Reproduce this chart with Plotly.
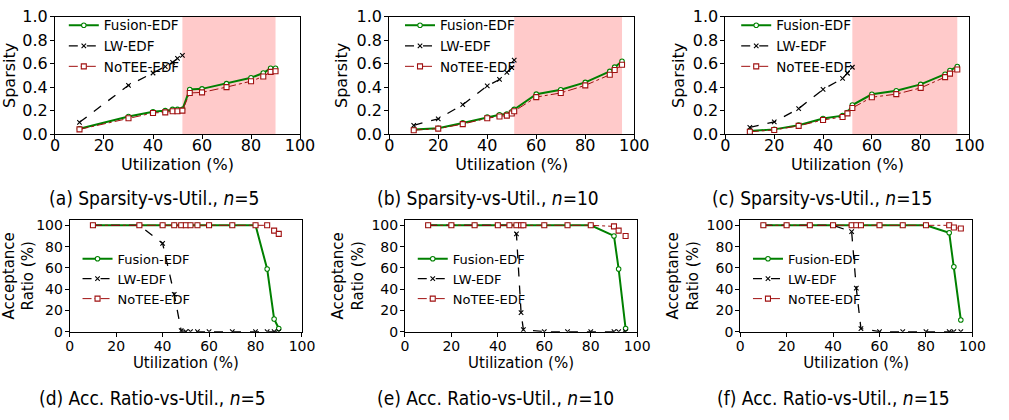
import plotly.graph_objects as go

series_names = ["Fusion-EDF", "LW-EDF", "NoTEE-EDF"]

# ---------- Sparsity vs utilization ----------
sp5_x = [10, 30, 40, 45, 48, 50, 52, 55, 60, 70, 80, 85, 88, 90]
sp5_fusion = [0.045, 0.15, 0.19, 0.20, 0.21, 0.21, 0.21, 0.38, 0.385, 0.43, 0.48, 0.52, 0.56, 0.56]
sp5_notee = [0.04, 0.135, 0.18, 0.185, 0.195, 0.195, 0.20, 0.35, 0.355, 0.40, 0.45, 0.49, 0.53, 0.535]
sp5_lw_x = [10, 30, 40, 45, 48, 50, 52]
sp5_lw = [0.10, 0.415, 0.52, 0.575, 0.61, 0.645, 0.67]

sp10_x = [10, 20, 30, 40, 45, 48, 50, 51, 60, 70, 80, 90, 92, 95]
sp10_fusion = [0.038, 0.05, 0.095, 0.146, 0.165, 0.17, 0.19, 0.21, 0.34, 0.377, 0.44, 0.534, 0.57, 0.62]
sp10_notee = [0.033, 0.046, 0.085, 0.135, 0.15, 0.157, 0.175, 0.195, 0.315, 0.35, 0.415, 0.505, 0.545, 0.59]
sp10_lw_x = [10, 20, 30, 40, 45, 48, 50, 51]
sp10_lw = [0.075, 0.13, 0.25, 0.41, 0.465, 0.525, 0.565, 0.63]

sp15_x = [10, 20, 30, 40, 48, 50, 52, 60, 70, 80, 90, 92, 95]
sp15_fusion = [0.027, 0.04, 0.076, 0.133, 0.157, 0.184, 0.247, 0.339, 0.369, 0.423, 0.51, 0.542, 0.575]
sp15_notee = [0.02, 0.035, 0.07, 0.12, 0.146, 0.176, 0.222, 0.314, 0.34, 0.393, 0.485, 0.515, 0.55]
sp15_lw_x = [10, 20, 30, 40, 48, 50, 52]
sp15_lw = [0.057, 0.103, 0.217, 0.38, 0.474, 0.518, 0.569]

# shaded utilization ranges (start, end) for n=5, 10, 15
shade_ranges = [(52, 90), (51, 95), (52, 95)]

# ---------- Acceptance ratio vs utilization ----------
ar5_fusion = [100, 100, 100, 100, 100, 100, 100, 100, 100, 100, 100, 59, 12, 3]
ar5_lw = [100, 100, 83, 35, 1, 0, 0, 0, 0, 0, 0, 0, 0, 0]
ar5_notee = [100, 100, 100, 100, 100, 100, 100, 100, 100, 100, 100, 100, 95, 92]

ar10_fusion = [100, 100, 100, 100, 100, 100, 100, 100, 100, 100, 100, 90, 59, 3]
ar10_lw = [100, 100, 100, 100, 100, 92, 18, 2, 0, 0, 0, 0, 0, 0]
ar10_notee = [100, 100, 100, 100, 100, 100, 100, 100, 100, 100, 100, 99, 95, 90]

ar15_fusion = [100, 100, 100, 100, 100, 100, 100, 100, 100, 100, 93, 61, 11]
ar15_lw = [100, 100, 100, 100, 94, 41, 3, 0, 0, 0, 0, 0, 0]
ar15_notee = [100, 100, 100, 100, 100, 100, 100, 100, 100, 100, 100, 98, 97]

captions = [
    "(a) Sparsity-vs-Util., <i>n</i>=5",
    "(b) Sparsity-vs-Util., <i>n</i>=10",
    "(c) Sparsity-vs-Util., <i>n</i>=15",
    "(d) Acc. Ratio-vs-Util., <i>n</i>=5",
    "(e) Acc. Ratio-vs-Util., <i>n</i>=10",
    "(f) Acc. Ratio-vs-Util., <i>n</i>=15",
]

W, H = 1009, 420

# plot-area boxes in pixels: (left, right, top, bottom)
boxes = [
    (51, 301, 8, 131), (392, 642, 8, 131), (735, 984, 8, 131),
    (66, 303, 221, 338), (408, 645, 221, 338), (750, 987, 221, 338),
]
legend_pos = [(60, 1), (403, 1), (746, 1), (74, 246), (416, 246), (758, 246)]
caption_pos = [(152, 198), (493, 198), (834, 198), (150, 407), (500, 407), (845, 407)]

panels = [
    dict(x=sp5_x, f=sp5_fusion, lx=sp5_lw_x, l=sp5_lw, n=sp5_notee, kind="sp"),
    dict(x=sp10_x, f=sp10_fusion, lx=sp10_lw_x, l=sp10_lw, n=sp10_notee, kind="sp"),
    dict(x=sp15_x, f=sp15_fusion, lx=sp15_lw_x, l=sp15_lw, n=sp15_notee, kind="sp"),
    dict(x=sp5_x, f=ar5_fusion, lx=sp5_x, l=ar5_lw, n=ar5_notee, kind="ar"),
    dict(x=sp10_x, f=ar10_fusion, lx=sp10_x, l=ar10_lw, n=ar10_notee, kind="ar"),
    dict(x=sp15_x, f=ar15_fusion, lx=sp15_x, l=ar15_lw, n=ar15_notee, kind="ar"),
]

FONT = "DejaVu Sans"
GREEN = "#008000"
RED = "#a01010"

fig = go.Figure()
layout = {}
for i, p in enumerate(panels):
    k = i + 1
    xa = "x" if k == 1 else f"x{k}"
    ya = "y" if k == 1 else f"y{k}"
    lg = "legend" if k == 1 else f"legend{k}"
    big = p["kind"] == "sp"

    fig.add_trace(go.Scatter(
        x=p["x"], y=p["f"], name=series_names[0], mode="lines+markers",
        line=dict(color=GREEN, width=2),
        marker=dict(symbol="circle", size=4.5, color="white", line=dict(color=GREEN, width=1.1)),
        xaxis=xa, yaxis=ya, legend=lg))
    fig.add_trace(go.Scatter(
        x=p["lx"], y=p["l"], name=series_names[1], mode="lines+markers",
        line=dict(color="black", width=1.3, dash="dash"),
        marker=dict(symbol="x-thin", size=4.5, color="black", line=dict(color="black", width=1.1)),
        xaxis=xa, yaxis=ya, legend=lg))
    fig.add_trace(go.Scatter(
        x=p["x"], y=p["n"], name=series_names[2], mode="lines+markers",
        line=dict(color=RED, width=1, dash="dashdot"),
        marker=dict(symbol="square", size=5, color="white", line=dict(color=RED, width=1.1)),
        xaxis=xa, yaxis=ya, legend=lg))

    l, r, t, b = boxes[i]
    tick_font = dict(family=FONT, size=16 if big else 14, color="black")
    title_font = dict(family=FONT, size=16 if big else 15, color="black")
    common = dict(showline=True, linecolor="black", linewidth=1, mirror=True,
                  ticks="outside", ticklen=4, tickcolor="black", tickwidth=1,
                  showgrid=False, zeroline=False, tickfont=tick_font)
    layout["xaxis" if k == 1 else f"xaxis{k}"] = dict(
        common, domain=[l / W, r / W], anchor=ya, range=[0, 100],
        tickvals=[0, 20, 40, 60, 80, 100], ticklabelstandoff=-7 if big else -3,
        title=dict(text="Utilization (%)", font=title_font, standoff=0))
    if big:
        ycfg = dict(range=[0, 1.0], tickvals=[0, 0.2, 0.4, 0.6, 0.8, 1.0], tickformat=".1f",
                    title=dict(text="Sparsity", font=title_font, standoff=4))
    else:
        ycfg = dict(range=[0, 105], tickvals=[0, 20, 40, 60, 80, 100],
                    title=dict(text="Acceptance<br>Ratio (%)", font=title_font, standoff=4))
    layout["yaxis" if k == 1 else f"yaxis{k}"] = dict(
        common, domain=[1 - b / H, 1 - t / H], anchor=xa, ticklabelstandoff=-1, **ycfg)

    lx, ly = legend_pos[i]
    layout[lg] = dict(x=lx / W, y=1 - ly / H, xanchor="left", yanchor="top",
                      bgcolor="rgba(0,0,0,0)", borderwidth=0,
                      font=dict(family=FONT, size=13.5 if big else 13, color="black"),
                      tracegroupgap=0, itemwidth=30)

    if big:
        s0, s1 = shade_ranges[i]
        fig.add_shape(type="rect", xref=xa, yref=f"{ya} domain", x0=s0, x1=s1, y0=0, y1=1,
                      fillcolor="#ffcaca", line_width=0, layer="below")

    cx, cy = caption_pos[i]
    fig.add_annotation(text=captions[i], xref="paper", yref="paper", x=cx / W, y=1 - cy / H,
                       xanchor="center", yanchor="middle", showarrow=False,
                       font=dict(family="Liberation Sans Narrow, DejaVu Sans Condensed", size=19, color="black"))

fig.update_layout(**layout)
fig.update_layout(width=W, height=H, margin=dict(l=0, r=0, t=0, b=0),
                  paper_bgcolor="white", plot_bgcolor="white", showlegend=True)
fig.write_html("out.html")
